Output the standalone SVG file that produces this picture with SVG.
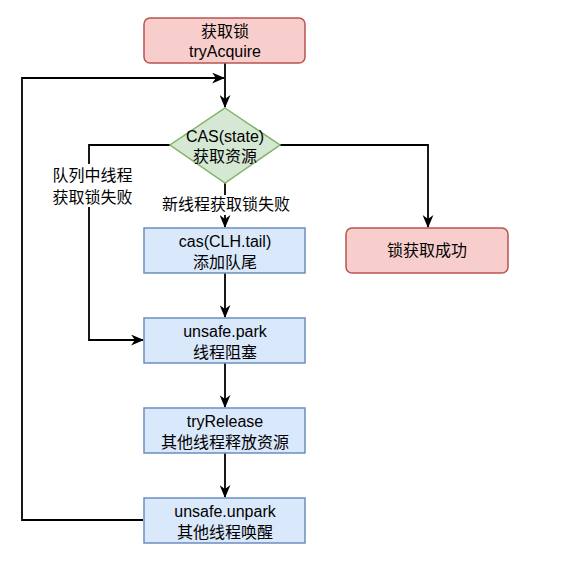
<svg xmlns="http://www.w3.org/2000/svg" width="580" height="562" viewBox="0 0 580 562">
<defs>
<marker id="arr" viewBox="0 0 12 10" refX="11" refY="5" markerWidth="13" markerHeight="11" markerUnits="userSpaceOnUse" orient="auto">
<path d="M0,0 L12,5 L0,10 L3.5,5 Z" fill="#000"/>
</marker>
</defs>
<style>
.red{fill:#f8cecc;stroke:#b85450;stroke-width:1.5}
.blue{fill:#dae8fc;stroke:#6c8ebf;stroke-width:1.5}
.green{fill:#d5e8d4;stroke:#82b366;stroke-width:1.5}
text{font-family:"Liberation Sans","Noto Sans CJK SC",sans-serif;font-size:16px;fill:#000;text-anchor:middle}
.edge{fill:none;stroke:#000;stroke-width:1.8;marker-end:url(#arr)}
.lbl{fill:#fff}
</style>
<rect width="580" height="562" fill="#fff"/>
<g id="connectors">
<path class="edge" d="M225,63 V107"/>
<path class="edge" d="M143,520 H22 V78 H224"/>
<path class="edge" d="M280,145 H428 V227"/>
<path class="edge" d="M170,145 H89 V340 H143"/>
<path class="edge" d="M225,183 V227"/>
<path class="edge" d="M225,273 V317"/>
<path class="edge" d="M225,363 V407"/>
<path class="edge" d="M225,453 V497"/>
<rect class="lbl" x="52" y="164" width="81" height="43"/>
<text x="92.5" y="181">队列中线程</text>
<text x="92.5" y="203">获取锁失败</text>
<rect class="lbl" x="160" y="195" width="132" height="20"/>
<text x="226" y="210">新线程获取锁失败</text>
</g>
<g id="n1">
<rect class="red" x="144" y="18" width="161" height="45" rx="6"/>
<text x="225" y="37">获取锁</text>
<text x="225" y="57">tryAcquire</text>
</g>
<g id="n2">
<path class="green" d="M225,108 L280,145 L225,183 L170,145 Z"/>
<text x="225" y="142">CAS(state)</text>
<text x="225" y="162">获取资源</text>
</g>
<g id="n3">
<rect class="red" x="346" y="228" width="162" height="45" rx="6"/>
<text x="427" y="256">锁获取成功</text>
</g>
<g id="n4">
<rect class="blue" x="144" y="228" width="161" height="45"/>
<text x="225" y="247">cas(CLH.tail)</text>
<text x="225" y="268">添加队尾</text>
</g>
<g id="n5">
<rect class="blue" x="144" y="318" width="161" height="45"/>
<text x="225" y="337">unsafe.park</text>
<text x="225" y="358">线程阻塞</text>
</g>
<g id="n6">
<rect class="blue" x="144" y="408" width="161" height="45"/>
<text x="225" y="427">tryRelease</text>
<text x="225" y="448">其他线程释放资源</text>
</g>
<g id="n7">
<rect class="blue" x="144" y="498" width="161" height="45"/>
<text x="225" y="517">unsafe.unpark</text>
<text x="225" y="538">其他线程唤醒</text>
</g>
</svg>
